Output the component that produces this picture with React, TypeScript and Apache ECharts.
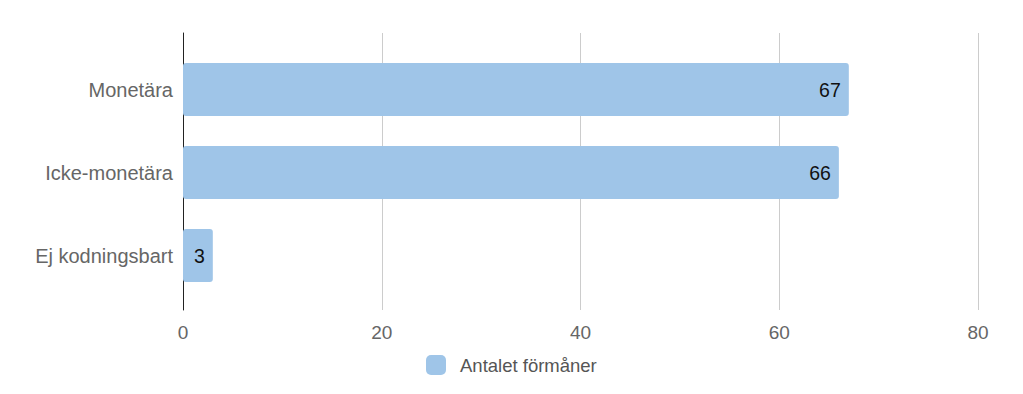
import React, { useEffect, useRef } from "react";
import * as echarts from "echarts";

const categories = ["Monetära", "Icke-monetära", "Ej kodningsbart"];
const values = [67, 66, 3];
const seriesName = "Antalet förmåner";
const xTicks = { min: 0, max: 80, interval: 20 };

const FONT = "Arial, 'Liberation Sans', sans-serif";
const BAR_COLOR = "#9fc5e8";

export default function App() {
  const ref = useRef<HTMLDivElement>(null);

  useEffect(() => {
    if (!ref.current) return;
    const chart = echarts.init(ref.current, undefined, { renderer: "svg" });
    chart.setOption({
      animation: false,
      backgroundColor: "#ffffff",
      textStyle: { fontFamily: FONT },
      legend: {
        data: [seriesName],
        left: 421,
        top: 350,
        itemWidth: 20,
        itemHeight: 20,
        icon: "roundRect",
        textStyle: { fontSize: 18.5, color: "#555", fontFamily: FONT, padding: [0, 0, 0, 9] },
      },
      grid: [
        // frame for gridlines, ticks and the vertical axis line
        { left: 183, right: 45, top: 33, bottom: 84 },
        // band area for the bars
        { left: 183, right: 45, top: 48, bottom: 97 },
      ],
      xAxis: [
        {
          gridIndex: 0,
          type: "value",
          min: xTicks.min,
          max: xTicks.max,
          interval: xTicks.interval,
          axisLine: { show: false },
          axisTick: { show: false },
          splitLine: { lineStyle: { color: "#cccccc", width: 1 } },
          axisLabel: { color: "#666", fontSize: 19, fontFamily: FONT, margin: 13 },
        },
        {
          gridIndex: 1,
          type: "value",
          min: xTicks.min,
          max: xTicks.max,
          show: false,
        },
      ],
      yAxis: [
        {
          gridIndex: 0,
          type: "category",
          data: categories,
          axisLine: { show: true, lineStyle: { color: "#222", width: 1 } },
          axisTick: { show: false },
          axisLabel: { show: false },
          splitLine: { show: false },
        },
        {
          gridIndex: 1,
          type: "category",
          data: categories,
          inverse: true,
          axisLine: { show: false },
          axisTick: { show: false },
          axisLabel: { color: "#666", fontSize: 20, fontFamily: FONT, margin: 10 },
        },
      ],
      series: [
        {
          name: seriesName,
          type: "bar",
          xAxisIndex: 1,
          yAxisIndex: 1,
          data: values,
          barCategoryGap: "36%",
          itemStyle: { color: BAR_COLOR, borderRadius: 3 },
          label: {
            show: true,
            position: "insideRight",
            distance: 8,
            color: "#111",
            fontSize: 19.5,
            fontFamily: FONT,
          },
        },
      ],
    });
    return () => chart.dispose();
  }, []);

  return (
    <div
      ref={ref}
      style={{ position: "absolute", left: 0, top: 0, width: 1023, height: 394 }}
    />
  );
}
